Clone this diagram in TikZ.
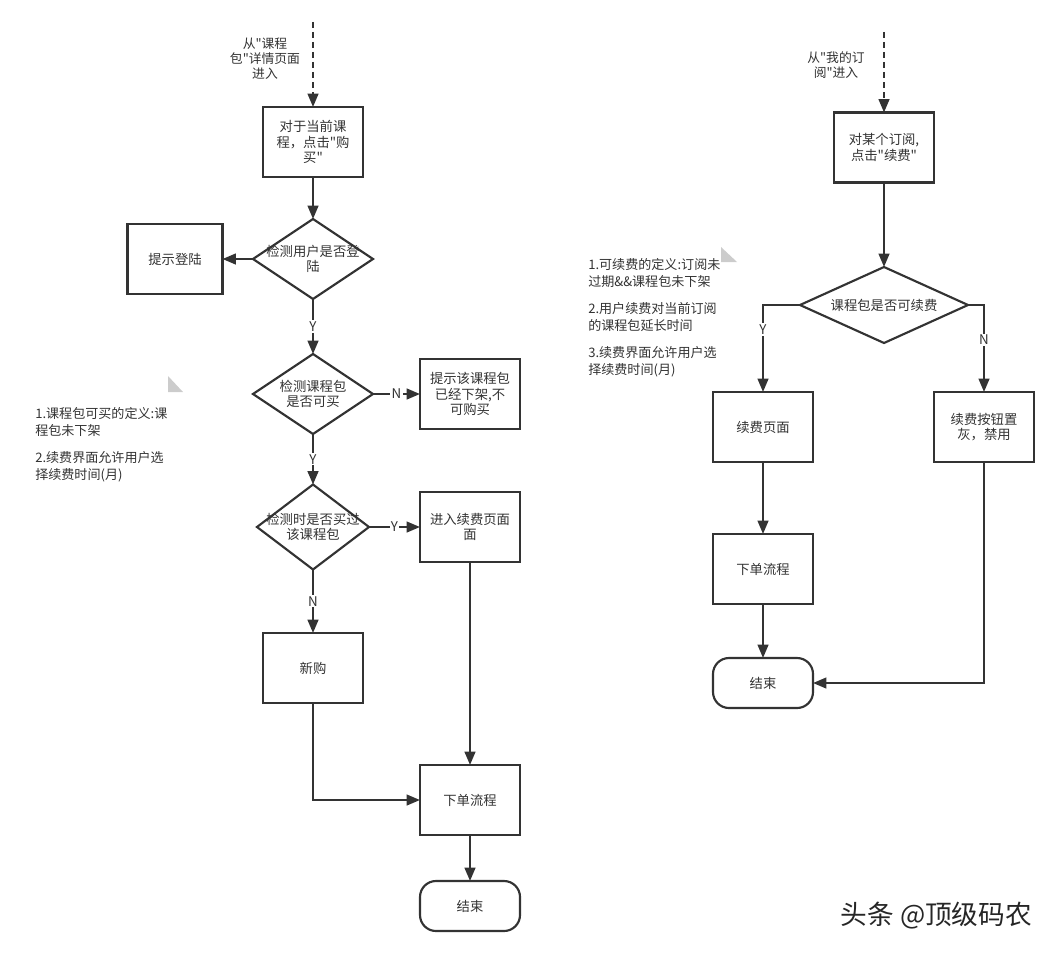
\documentclass[tikz,border=0pt]{standalone}
\usepackage{fontspec}
\setmainfont{Noto Sans CJK SC}[Ligatures=TeXOff]
\usetikzlibrary{arrows.meta,shapes.geometric}
\definecolor{ink}{HTML}{333333}
\definecolor{notetri}{HTML}{CCCCCC}

\begin{document}
\begin{tikzpicture}[x=0.75pt,y=-0.75pt,box/.style={rectangle,draw=ink,line width=1.6pt,minimum width=75pt,minimum height=52.5pt,inner sep=1pt,outer sep=0pt,align=center,text=ink,font=\fontsize{10}{11.5}\selectfont},decision/.style={diamond,draw=ink,line width=1.6pt,inner sep=0pt,outer sep=0pt},endbox/.style={box,rounded corners=12pt,minimum height=37.5pt},txt/.style={align=center,text=ink,font=\fontsize{10}{11.5}\selectfont,inner sep=0pt},note/.style={align=left,text=ink,font=\fontsize{9.8}{12.75}\selectfont,inner sep=0pt,anchor=north west},flow/.style={draw=ink,line width=1.6pt,-{Triangle[length=10pt,width=8pt]}},entry/.style={flow,dash pattern=on 4.5pt off 3pt},yn/.style={fill=white,text=ink,font=\fontsize{10}{11}\selectfont,inner sep=1pt}]
\useasboundingbox (0,0) rectangle (1059,956);
% buying from the course package page
\coordinate (fromdetail) at (313,22);
\node[txt,font=\fontsize{9.6}{11.25}\selectfont] (fromdetailt) at (265,59) {从"课程\\包"详情页面\\进入};
\node[box] (buy) at (313,142) {对于当前课\\程，点击"购\\买"};
\node[decision,minimum width=90pt,minimum height=60pt] (chklogin) at (313,259) {};
\node[txt] (chklogint) at (chklogin) {检测用户是否登\\陆};
\node[box,minimum width=71.25pt] (tiplogin) at (175,259) {提示登陆};
\node[decision,minimum width=90pt,minimum height=60pt] (chkshelf) at (313,394) {};
\node[txt] (chkshelft) at (chkshelf) {检测课程包\\是否可买};
\node[box] (offshelf) at (470,394) {提示该课程包\\已经下架,不\\可购买};
\node[decision,minimum width=84pt,minimum height=63.75pt] (chkbought) at (313,527) {};
\node[txt] (chkboughtt) at (chkbought) {检测时是否买过\\该课程包};
\node[box] (renew) at (470,527) {进入续费页面\\面};
\node[box] (newbuy) at (313,668) {新购};
\node[box] (order) at (470,800) {下单流程};
\node[endbox] (finish) at (470,906) {结束};
\draw[entry] (fromdetail) -- (buy);
\draw[flow] (buy) -- (chklogin);
\draw[flow] (chklogin) -- (tiplogin);
\draw[flow] (chklogin) -- node[yn] {Y} (chkshelf);
\draw[flow] (chkshelf) -- node[yn] {N} (offshelf);
\draw[flow] (chkshelf) -- node[yn] {Y} (chkbought);
\draw[flow] (chkbought) -- node[yn] {Y} (renew);
\draw[flow] (chkbought) -- node[yn] {N} (newbuy);
\draw[flow] (newbuy) |- (order);
\draw[flow] (renew) -- (order);
\draw[flow] (order) -- (finish);
\fill[notetri] (168,376) -- (168,392) -- (183,392) -- cycle;
\node[note] (buynote) at (35,407) {1.课程包可买的定义:课\\程包未下架\\[7.5pt]2.续费界面允许用户选\\择续费时间(月)};
% renewing from my subscriptions
\coordinate (fromsub) at (884,32);
\node[txt,font=\fontsize{9.6}{11.25}\selectfont] (fromsubt) at (836,65) {从"我的订\\阅"进入};
\node[box] (clickrenew) at (884,147.5) {对某个订阅,\\点击"续费"};
\node[decision,minimum width=126pt,minimum height=57pt] (canrenew) at (884,305) {};
\node[txt] (canrenewt) at (canrenew) {课程包是否可续费};
\node[box] (renewpage) at (763,427) {续费页面};
\node[box] (graybtn) at (984,427) {续费按钮置\\灰，禁用};
\node[box] (order2) at (763,569) {下单流程};
\node[endbox] (finish2) at (763,683) {结束};
\draw[entry] (fromsub) -- (clickrenew);
\draw[flow] (clickrenew) -- (canrenew);
\draw[flow] (canrenew) -| node[yn,pos=0.64] {Y} (renewpage);
\draw[flow] (canrenew) -| node[yn,pos=0.7] {N} (graybtn);
\draw[flow] (renewpage) -- (order2);
\draw[flow] (order2) -- (finish2);
\draw[flow] (graybtn) |- (finish2);
\fill[notetri] (721,247) -- (721,262) -- (737,262) -- cycle;
\node[note] (renewnote) at (588,258) {1.可续费的定义:订阅未\\过期\&\&课程包未下架\\[7.5pt]2.用户续费对当前订阅\\的课程包延长时间\\[7.5pt]3.续费界面允许用户选\\择续费时间(月)};
\node[anchor=west,text=black!85,font=\fontsize{20}{22}\selectfont] (mark) at (836,916) {头条 @顶级码农};
\end{tikzpicture}
\end{document}
